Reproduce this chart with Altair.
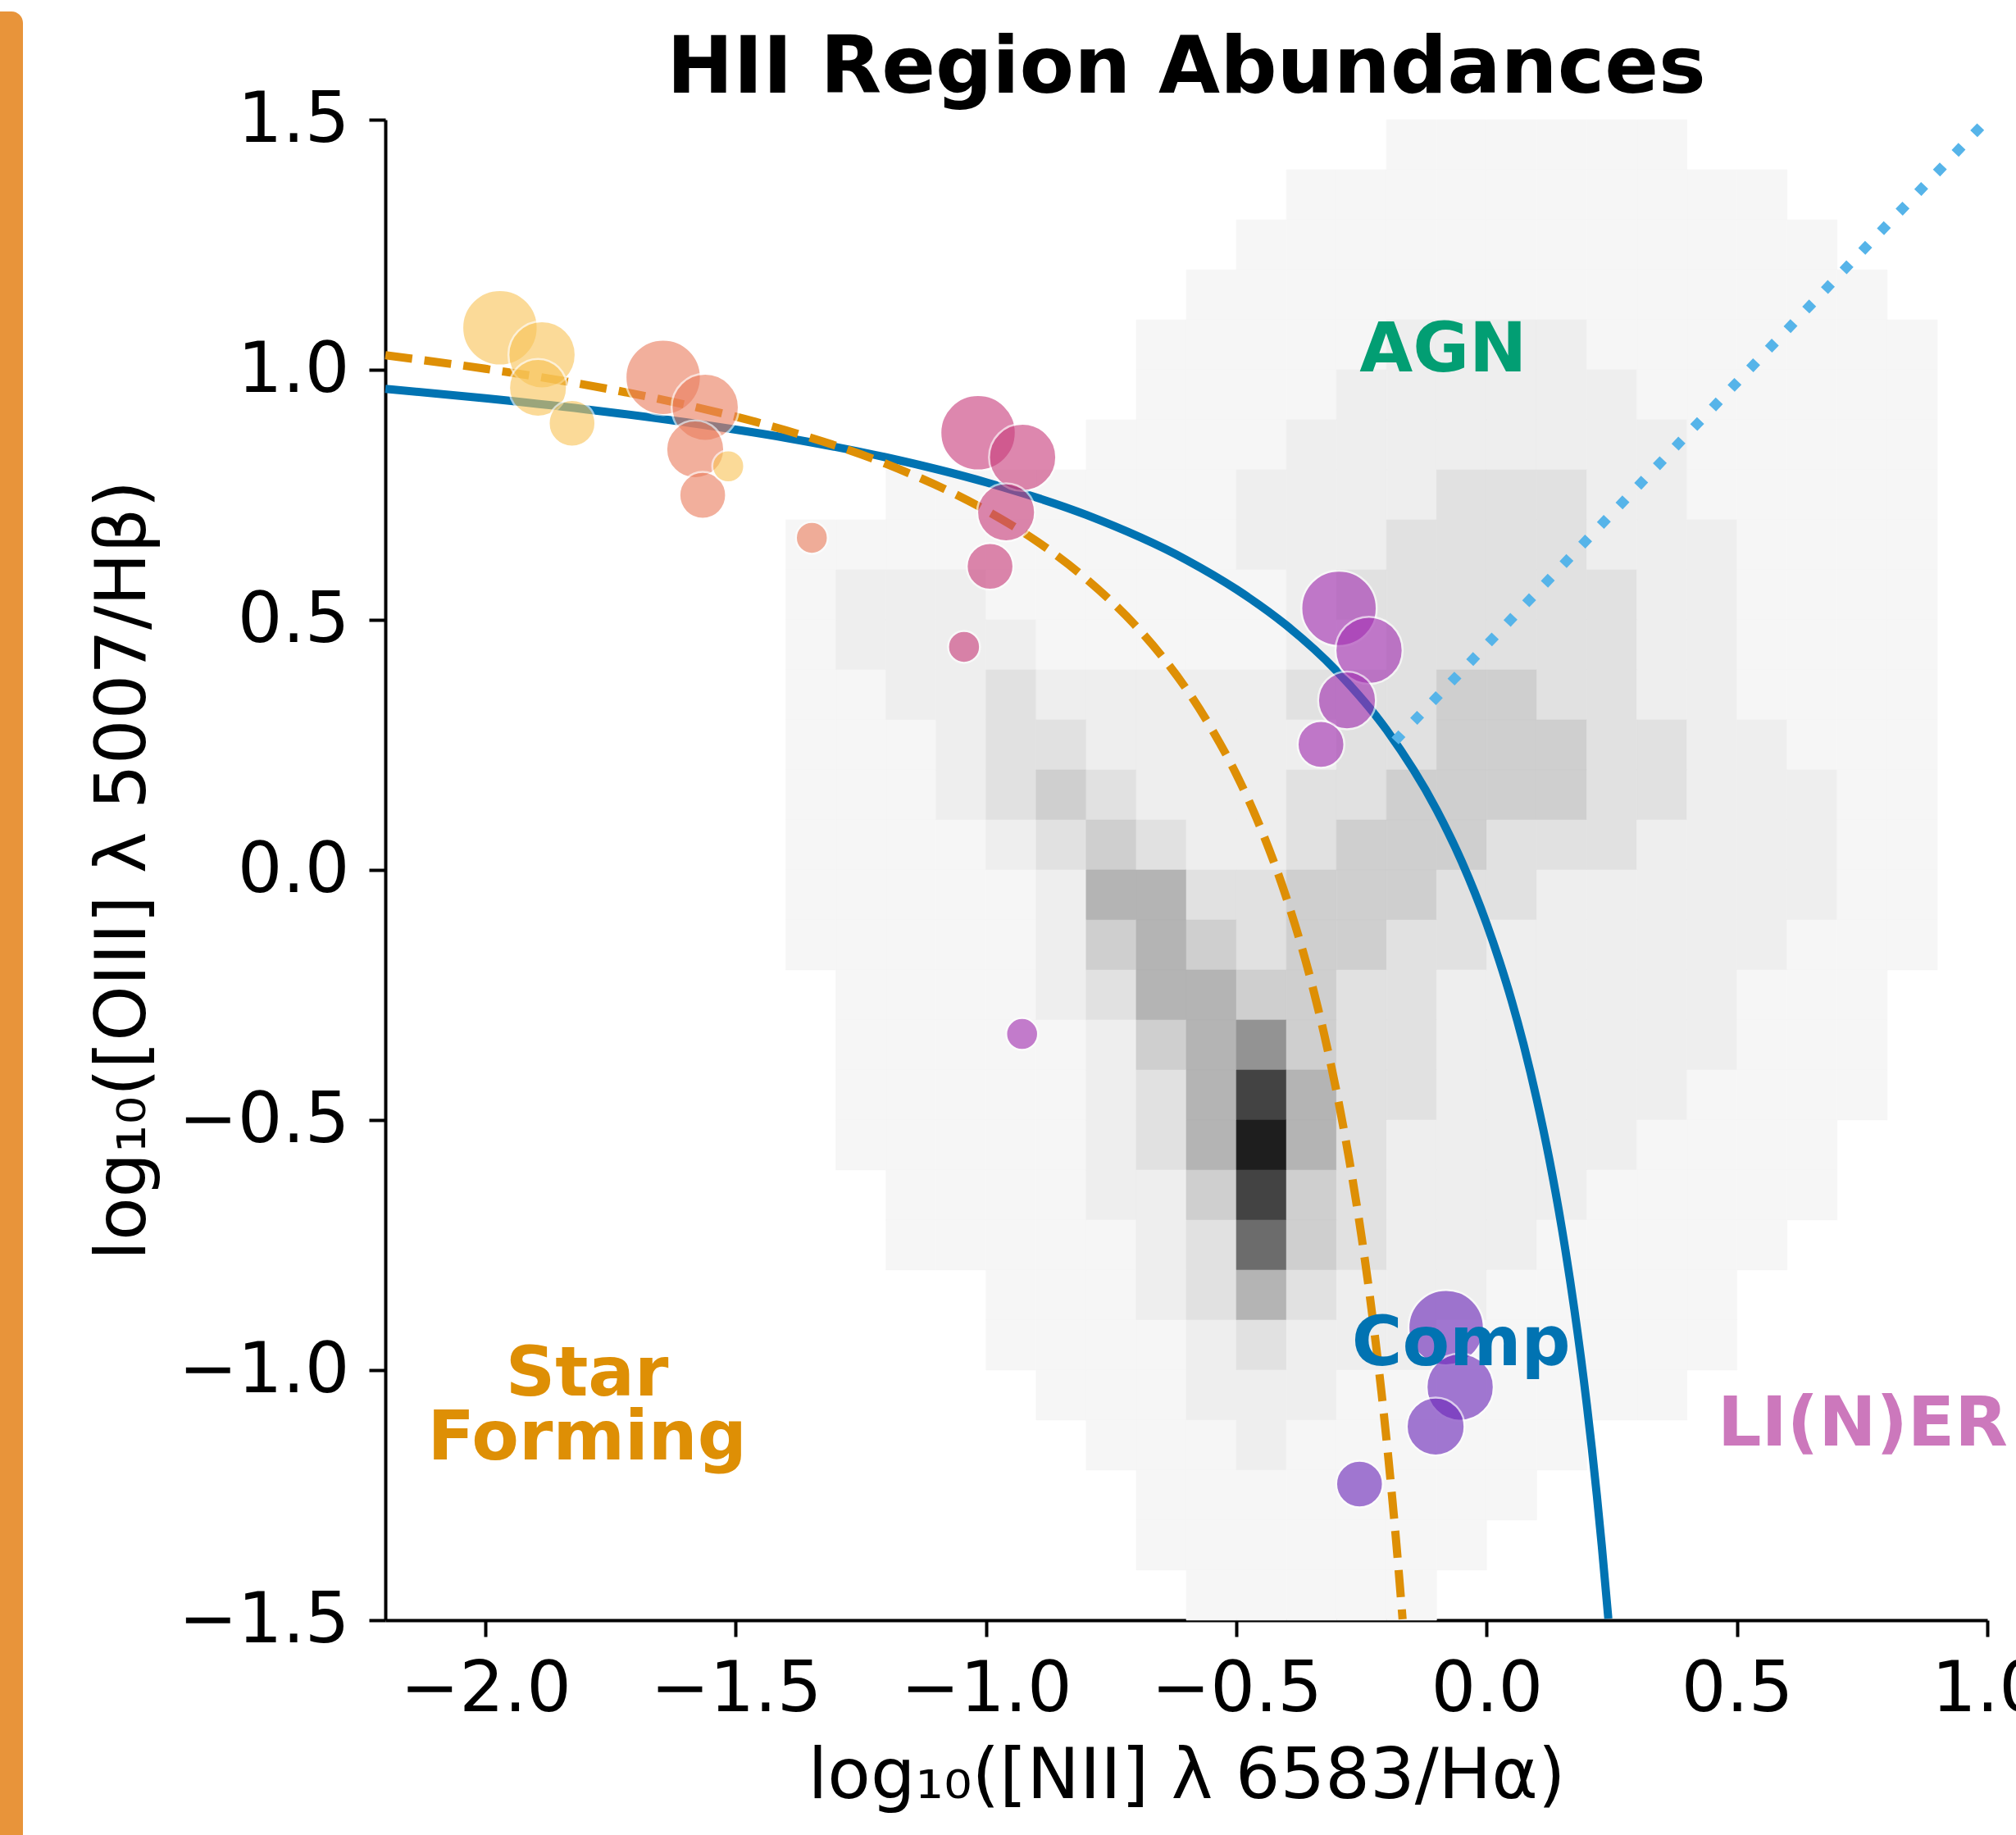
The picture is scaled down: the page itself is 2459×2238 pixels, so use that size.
import altair as alt
import pandas as pd

FONT = "DejaVu Sans"

# ---- Kauffmann et al. (2003) star-forming boundary, sampled ----
kauff_x = [-2.2, -2.0, -1.8, -1.6, -1.4, -1.2, -1.0, -0.9, -0.8, -0.7, -0.65, -0.6, -0.55,
           -0.5, -0.45, -0.4, -0.35, -0.325, -0.3, -0.275, -0.25, -0.235, -0.22, -0.21,
           -0.2, -0.19, -0.18, -0.168]
kauff_y = [1.029, 1.002, 0.970, 0.930, 0.879, 0.812, 0.719, 0.658, 0.582, 0.487, 0.429, 0.362,
           0.283, 0.191, 0.080, -0.056, -0.225, -0.327, -0.443, -0.577, -0.733, -0.840,
           -0.959, -1.046, -1.140, -1.242, -1.352, -1.498]

# ---- Kewley et al. (2001) maximum-starburst line, sampled ----
kewley_x = [-2.2, -2.0, -1.8, -1.6, -1.4, -1.2, -1.0, -0.8, -0.6, -0.5, -0.4, -0.3, -0.2,
            -0.1, -0.05, 0.0, 0.025, 0.05, 0.075, 0.1, 0.125, 0.15, 0.175, 0.2, 0.21, 0.22,
            0.23, 0.243]
kewley_y = [0.962, 0.943, 0.921, 0.895, 0.864, 0.825, 0.775, 0.710, 0.620, 0.561, 0.489,
            0.398, 0.280, 0.120, 0.017, -0.108, -0.181, -0.262, -0.354, -0.459, -0.578,
            -0.716, -0.878, -1.069, -1.156, -1.250, -1.352, -1.497]

# ---- Seyfert / LINER dividing line ----
seyfert_x = [-0.183, 1.0]
seyfert_y = [0.258, 1.5]

# ---- HII region measurements ----
hii_x = [-1.971, -1.887, -1.895, -1.827, -1.515,
         -1.645, -1.561, -1.581, -1.566, -1.348,
         -1.016, -0.927, -0.960, -0.992, -1.044,
         -0.295, -0.235, -0.279, -0.331, -0.928,
         -0.081, -0.053, -0.102, -0.254]
hii_y = [1.084, 1.030, 0.964, 0.893, 0.807,
         0.985, 0.925, 0.841, 0.749, 0.664,
         0.874, 0.825, 0.715, 0.607, 0.446,
         0.523, 0.439, 0.339, 0.251, -0.328,
         -0.915, -1.034, -1.113, -1.228]
hii_group = ["g1"] * 5 + ["g2"] * 5 + ["g3"] * 5 + ["g4"] * 5 + ["g5"] * 4
hii_rank = [5, 4, 3, 2, 1] * 4 + [5, 4, 3, 2]

# ---- SDSS galaxy density (0.1 dex cells), rows from log OIII/Hb = 1.5 downwards,
#      columns from log NII/Ha = -1.4 rightwards; digit = density level ----
dens_x0 = -1.4
dens_y0 = 1.5
dens_step = 0.1
dens_rows = [
    "000000000000111111000000",
    "000000000011111111110000",
    "000000000111111111111000",
    "000000001111111111111100",
    "000000011111222211111110",
    "000000011112222221111110",
    "000000111122222222111110",
    "001111111222233322111110",
    "111111111222333322211110",
    "122211111123333332211110",
    "122221111122333332211110",
    "112232222233344332211110",
    "111233222223344433221110",
    "111234322233444433222110",
    "111123432234443332222110",
    "111112553344433222222110",
    "111112454344332222221110",
    "011112355443322222211100",
    "011111245643322222211100",
    "011111235853322222111100",
    "011111235953222221111000",
    "001111224843222211111000",
    "001111123743222111110000",
    "000011123532221111100000",
    "000011112322211111100000",
    "000001112221111111000000",
    "000000111211111100000000",
    "000000011111111000000000",
    "000000011111110000000000",
    "000000001111100000000000",
]

# ---- region labels ----
lab_text = ["AGN", "Comp", "Star\nForming", "LI(N)ER"]
lab_x = [-0.087, -0.051, -1.797, 0.751]
lab_y = [0.997, -0.990, -1.051, -1.151]
lab_color = ["#029e73", "#0173b2", "#de8f05", "#cc78bc"]

# ---------------------------------------------------------------
cells = []
for i, row in enumerate(dens_rows):
    for j, ch in enumerate(row):
        lvl = int(ch)
        if lvl > 0:
            x0 = dens_x0 + j * dens_step
            y1 = dens_y0 - i * dens_step
            cells.append({"x0": x0, "x1": x0 + dens_step,
                          "y0": y1 - dens_step, "y1": y1, "level": lvl})
dens_df = pd.DataFrame(cells)

kauff_df = pd.DataFrame({"x": kauff_x, "y": kauff_y, "i": range(len(kauff_x))})
kewley_df = pd.DataFrame({"x": kewley_x, "y": kewley_y, "i": range(len(kewley_x))})
sey_df = pd.DataFrame({"x": seyfert_x, "y": seyfert_y, "i": range(len(seyfert_x))})
hii_df = pd.DataFrame({"x": hii_x, "y": hii_y, "group": hii_group, "rank": hii_rank})
lab_df = pd.DataFrame({"text": lab_text, "x": lab_x, "y": lab_y, "color": lab_color})

W, H = 1954, 1830
xscale = alt.Scale(domain=[-2.2, 1.0], nice=False, zero=False)
yscale = alt.Scale(domain=[-1.5, 1.5], nice=False, zero=False)

axis_common = dict(
    grid=False, domainColor="black", domainWidth=4, tickColor="black", tickWidth=4,
    tickSize=20, labelFont=FONT, labelFontSize=86, labelColor="black", labelLimit=0,
    titleFont=FONT, titleFontSize=86, titleFontWeight="normal", titleColor="black",
    titleLimit=0,
    labelExpr="replace(format(datum.value, '.1f'), '-', '\u2212')",
)
xaxis = alt.Axis(values=[-2.0, -1.5, -1.0, -0.5, 0.0, 0.5, 1.0],
                 title="log\u2081\u2080([NII] \u03bb 6583/H\u03b1)",
                 titleX=977, titleY=216, titleBaseline="alphabetic", titleAlign="center",
                 labelPadding=22, labelFlush=False, labelOverlap=False, **axis_common)
yaxis = alt.Axis(values=[-1.5, -1.0, -0.5, 0.0, 0.5, 1.0, 1.5],
                 title="log\u2081\u2080([OIII] \u03bb 5007/H\u03b2)",
                 titleX=-294, titleY=915, titleBaseline="alphabetic", titleAlign="center",
                 titleAngle=270, labelPadding=24, labelOverlap=False, **axis_common)

gray_levels = list(range(1, 10))
gray_range = ["#f6f6f6", "#eeeeee", "#e1e1e1", "#cfcfcf", "#b4b4b4",
              "#939393", "#6c6c6c", "#434343", "#1e1e1e"]
gscale = alt.Scale(domain=gray_levels, range=gray_range)

density = alt.Chart(dens_df).mark_rect(strokeWidth=0.6).encode(
    x=alt.X("x0:Q", scale=xscale, axis=xaxis),
    x2="x1:Q",
    y=alt.Y("y0:Q", scale=yscale, axis=yaxis),
    y2="y1:Q",
    fill=alt.Fill("level:O", scale=gscale, legend=None),
    stroke=alt.Stroke("level:O", scale=gscale, legend=None),
)

kewley = alt.Chart(kewley_df).mark_line(
    color="#0173b2", strokeWidth=10, interpolate="monotone"
).encode(x=alt.X("x:Q", scale=xscale), y=alt.Y("y:Q", scale=yscale), order="i:Q")

kauff = alt.Chart(kauff_df).mark_line(
    color="#de8f05", strokeWidth=10, strokeDash=[33, 15], interpolate="monotone"
).encode(x=alt.X("x:Q", scale=xscale), y=alt.Y("y:Q", scale=yscale), order="i:Q")

seyfert = alt.Chart(sey_df).mark_line(
    color="#56b4e9", strokeWidth=12, strokeDash=[12, 21]
).encode(x=alt.X("x:Q", scale=xscale), y=alt.Y("y:Q", scale=yscale), order="i:Q")

points = alt.Chart(hii_df).mark_point(
    filled=True, shape="circle", opacity=0.62, stroke="white", strokeWidth=2.5
).encode(
    x=alt.X("x:Q", scale=xscale),
    y=alt.Y("y:Q", scale=yscale),
    color=alt.Color("group:N", legend=None, scale=alt.Scale(
        domain=["g1", "g2", "g3", "g4", "g5"],
        range=["#f9c55a", "#eb7f60", "#c93f7d", "#a330b2", "#6d28ba"])),
    size=alt.Size("rank:Q", legend=None, scale=alt.Scale(
        type="linear", domain=[1, 5], range=[1521, 8464], zero=False)),
    order=alt.Order("rank:Q", sort="descending"),
)

labels = alt.Chart(lab_df).mark_text(
    font=FONT, fontSize=84, fontWeight="bold", align="center", baseline="alphabetic",
    lineBreak="\n", lineHeight=78
).encode(
    x=alt.X("x:Q", scale=xscale),
    y=alt.Y("y:Q", scale=yscale),
    text="text:N",
    color=alt.Color("color:N", scale=None),
)

side_bar = alt.Chart(pd.DataFrame({"k": [0]})).mark_rect(
    color="#e8943a", cornerRadiusTopRight=14
).encode(x=alt.value(-470), x2=alt.value(-442), y=alt.value(-132), y2=alt.value(2120))

title = alt.Chart(pd.DataFrame({"t": ["HII Region Abundances"]})).mark_text(
    font=FONT, fontSize=97, fontWeight="bold", align="center", baseline="alphabetic",
    color="black"
).encode(text="t:N", x=alt.value(W / 2), y=alt.value(-33))

chart = alt.layer(
    density, kewley, kauff, seyfert, points, labels, side_bar, title
).properties(
    width=W, height=H,
    autosize=alt.AutoSizeParams(type="none"),
    padding={"left": 470, "top": 146, "right": 35, "bottom": 262},
    background="white",
).configure_view(stroke=None)

chart.save("out.html", embed_options={"renderer": "svg", "actions": False})
